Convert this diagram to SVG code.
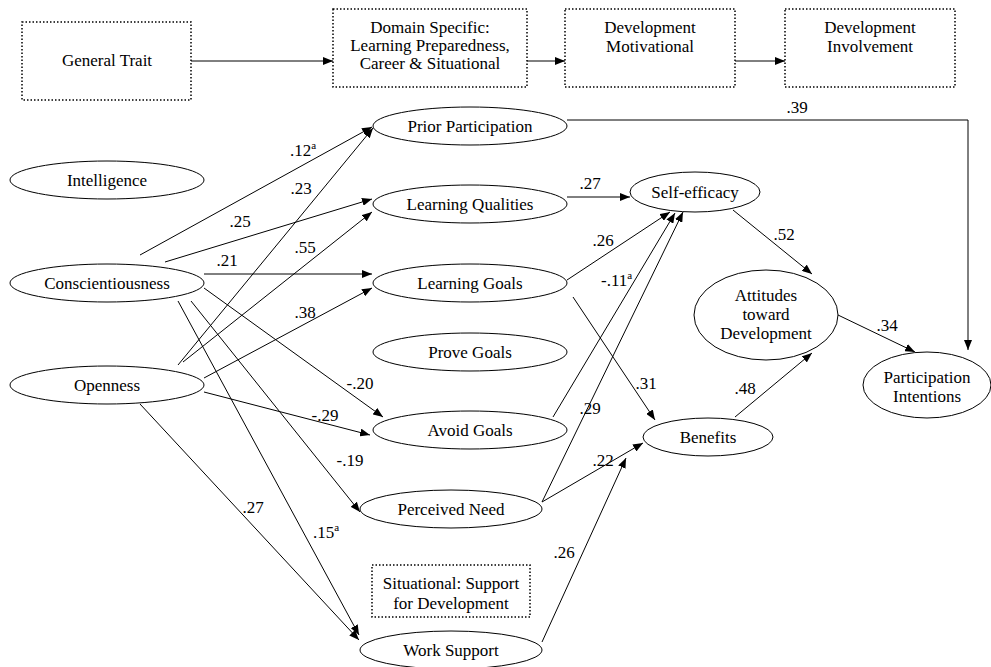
<svg xmlns="http://www.w3.org/2000/svg" width="991" height="667" viewBox="0 0 991 667">
<style>
text, tspan { font-family: 'Liberation Serif', serif !important; }
.c{text-anchor:middle}
ellipse{fill:#fff;stroke:#000;stroke-width:1}
.box{fill:#fff;stroke:#000;stroke-width:1.5;stroke-dasharray:1.5 2}
.e{fill:none;stroke:#000;stroke-width:1;marker-end:url(#ah)}
</style>
<defs>
<marker id="ah" viewBox="0 0 10 8" refX="10" refY="4" markerWidth="10" markerHeight="8" markerUnits="userSpaceOnUse" orient="auto">
<path d="M0,0 L10,4 L0,8 z" fill="#000"/>
</marker>
</defs>
<rect width="991" height="667" fill="#fff"/>

<g id="connectors">
<line class="e" x1="191" y1="61" x2="333" y2="61"/>
<line class="e" x1="527" y1="61" x2="565" y2="61"/>
<line class="e" x1="735" y1="61" x2="785" y2="61"/>
<polyline class="e" points="567,120 968,120 968,350"/>
<line class="e" x1="140" y1="255" x2="372" y2="127"/>
<line class="e" x1="178" y1="365" x2="373" y2="128"/>
<line class="e" x1="165" y1="262" x2="372" y2="199"/>
<line class="e" x1="183" y1="362" x2="372" y2="212"/>
<line class="e" x1="204" y1="274" x2="372" y2="274"/>
<line class="e" x1="204" y1="378" x2="372" y2="288"/>
<line class="e" x1="204" y1="288" x2="383" y2="417"/>
<line class="e" x1="204" y1="392" x2="370" y2="435"/>
<line class="e" x1="191" y1="301" x2="360" y2="512"/>
<line class="e" x1="178" y1="301" x2="359" y2="635"/>
<line class="e" x1="140" y1="404" x2="359" y2="640"/>
<line class="e" x1="567" y1="197" x2="630" y2="197"/>
<line class="e" x1="567" y1="280" x2="670" y2="212"/>
<line class="e" x1="553" y1="417" x2="675" y2="213"/>
<line class="e" x1="542" y1="502" x2="683" y2="212"/>
<line class="e" x1="573" y1="297" x2="655" y2="420"/>
<line class="e" x1="542" y1="502" x2="643" y2="443"/>
<line class="e" x1="542" y1="642" x2="626" y2="458"/>
<line class="e" x1="733" y1="210" x2="812" y2="274"/>
<line class="e" x1="735" y1="417" x2="812" y2="353"/>
<line class="e" x1="838" y1="315" x2="915" y2="352"/>
</g>

<g id="labels" font-size="17">
<text style="font-family:'Liberation Serif',serif" x="797" y="113" class="c">.39</text>
<text style="font-family:'Liberation Serif',serif" x="290" y="156">.12<tspan font-size="11" dy="-7">a</tspan></text>
<text style="font-family:'Liberation Serif',serif" x="301" y="194" class="c">.23</text>
<text style="font-family:'Liberation Serif',serif" x="240" y="227" class="c">.25</text>
<text style="font-family:'Liberation Serif',serif" x="305" y="253" class="c">.55</text>
<text style="font-family:'Liberation Serif',serif" x="227" y="266" class="c">.21</text>
<text style="font-family:'Liberation Serif',serif" x="305" y="318" class="c">.38</text>
<text style="font-family:'Liberation Serif',serif" x="360" y="389" class="c">-.20</text>
<text style="font-family:'Liberation Serif',serif" x="325" y="421" class="c">-.29</text>
<text style="font-family:'Liberation Serif',serif" x="350" y="466" class="c">-.19</text>
<text style="font-family:'Liberation Serif',serif" x="253" y="513" class="c">.27</text>
<text style="font-family:'Liberation Serif',serif" x="313" y="538">.15<tspan font-size="11" dy="-7">a</tspan></text>
<text style="font-family:'Liberation Serif',serif" x="590" y="189" class="c">.27</text>
<text style="font-family:'Liberation Serif',serif" x="603" y="246" class="c">.26</text>
<text style="font-family:'Liberation Serif',serif" x="601" y="286">-.11<tspan font-size="11" dy="-7">a</tspan></text>
<text style="font-family:'Liberation Serif',serif" x="646" y="389" class="c">.31</text>
<text style="font-family:'Liberation Serif',serif" x="590" y="414" class="c">.29</text>
<text style="font-family:'Liberation Serif',serif" x="603" y="466" class="c">.22</text>
<text style="font-family:'Liberation Serif',serif" x="564" y="558" class="c">.26</text>
<text style="font-family:'Liberation Serif',serif" x="784" y="240" class="c">.52</text>
<text style="font-family:'Liberation Serif',serif" x="745" y="394" class="c">.48</text>
<text style="font-family:'Liberation Serif',serif" x="887" y="331" class="c">.34</text>
</g>

<g font-size="17">
<g id="general-trait"><rect class="box" x="22" y="22" width="169" height="78"/><text style="font-family:'Liberation Serif',serif" x="107" y="66" class="c">General Trait</text></g>
<g id="domain-specific"><rect class="box" x="333" y="9" width="194" height="78"/>
<text style="font-family:'Liberation Serif',serif" x="430" y="33" class="c">Domain Specific:</text><text style="font-family:'Liberation Serif',serif" x="430" y="51" class="c">Learning Preparedness,</text><text style="font-family:'Liberation Serif',serif" x="430" y="69" class="c">Career &amp; Situational</text></g>
<g id="dev-motivational"><rect class="box" x="565" y="9" width="170" height="78"/>
<text style="font-family:'Liberation Serif',serif" x="650" y="33" class="c">Development</text><text style="font-family:'Liberation Serif',serif" x="650" y="52" class="c">Motivational</text></g>
<g id="dev-involvement"><rect class="box" x="785" y="9" width="170" height="78"/>
<text style="font-family:'Liberation Serif',serif" x="870" y="33" class="c">Development</text><text style="font-family:'Liberation Serif',serif" x="870" y="52" class="c">Involvement</text></g>

<g id="intelligence"><ellipse cx="107" cy="180" rx="97" ry="19"/><text style="font-family:'Liberation Serif',serif" x="107" y="186" class="c">Intelligence</text></g>
<g id="conscientiousness"><ellipse cx="107" cy="283" rx="97" ry="19"/><text style="font-family:'Liberation Serif',serif" x="107" y="289" class="c">Conscientiousness</text></g>
<g id="openness"><ellipse cx="107" cy="385" rx="97" ry="19"/><text style="font-family:'Liberation Serif',serif" x="107" y="391" class="c">Openness</text></g>

<g id="prior-participation"><ellipse cx="470" cy="126" rx="97" ry="19"/><text style="font-family:'Liberation Serif',serif" x="470" y="132" class="c">Prior Participation</text></g>
<g id="learning-qualities"><ellipse cx="470" cy="204" rx="97" ry="19"/><text style="font-family:'Liberation Serif',serif" x="470" y="210" class="c">Learning Qualities</text></g>
<g id="learning-goals"><ellipse cx="470" cy="283" rx="97" ry="19"/><text style="font-family:'Liberation Serif',serif" x="470" y="289" class="c">Learning Goals</text></g>
<g id="prove-goals"><ellipse cx="470" cy="352" rx="97" ry="19"/><text style="font-family:'Liberation Serif',serif" x="470" y="358" class="c">Prove Goals</text></g>
<g id="avoid-goals"><ellipse cx="470" cy="430" rx="97" ry="19"/><text style="font-family:'Liberation Serif',serif" x="470" y="436" class="c">Avoid Goals</text></g>
<g id="perceived-need"><ellipse cx="451" cy="509" rx="91" ry="19"/><text style="font-family:'Liberation Serif',serif" x="451" y="515" class="c">Perceived Need</text></g>
<g id="situational"><rect class="box" x="372" y="565" width="158" height="52"/>
<text style="font-family:'Liberation Serif',serif" x="451" y="589" class="c">Situational: Support</text><text style="font-family:'Liberation Serif',serif" x="451" y="609" class="c">for Development</text></g>
<g id="work-support"><ellipse cx="451" cy="650" rx="91" ry="19"/><text style="font-family:'Liberation Serif',serif" x="451" y="656" class="c">Work Support</text></g>

<g id="self-efficacy"><ellipse cx="695" cy="192" rx="65" ry="20"/><text style="font-family:'Liberation Serif',serif" x="695" y="198" class="c">Self-efficacy</text></g>
<g id="benefits"><ellipse cx="708" cy="437" rx="65" ry="19"/><text style="font-family:'Liberation Serif',serif" x="708" y="443" class="c">Benefits</text></g>
<g id="attitudes"><ellipse cx="766" cy="315" rx="72" ry="45"/>
<text style="font-family:'Liberation Serif',serif" x="766" y="301" class="c">Attitudes</text><text style="font-family:'Liberation Serif',serif" x="766" y="320" class="c">toward</text><text style="font-family:'Liberation Serif',serif" x="766" y="339" class="c">Development</text></g>
<g id="participation-intentions"><ellipse cx="927" cy="385" rx="64" ry="33"/>
<text style="font-family:'Liberation Serif',serif" x="927" y="383" class="c">Participation</text><text style="font-family:'Liberation Serif',serif" x="927" y="402" class="c">Intentions</text></g>
</g>
</svg>
